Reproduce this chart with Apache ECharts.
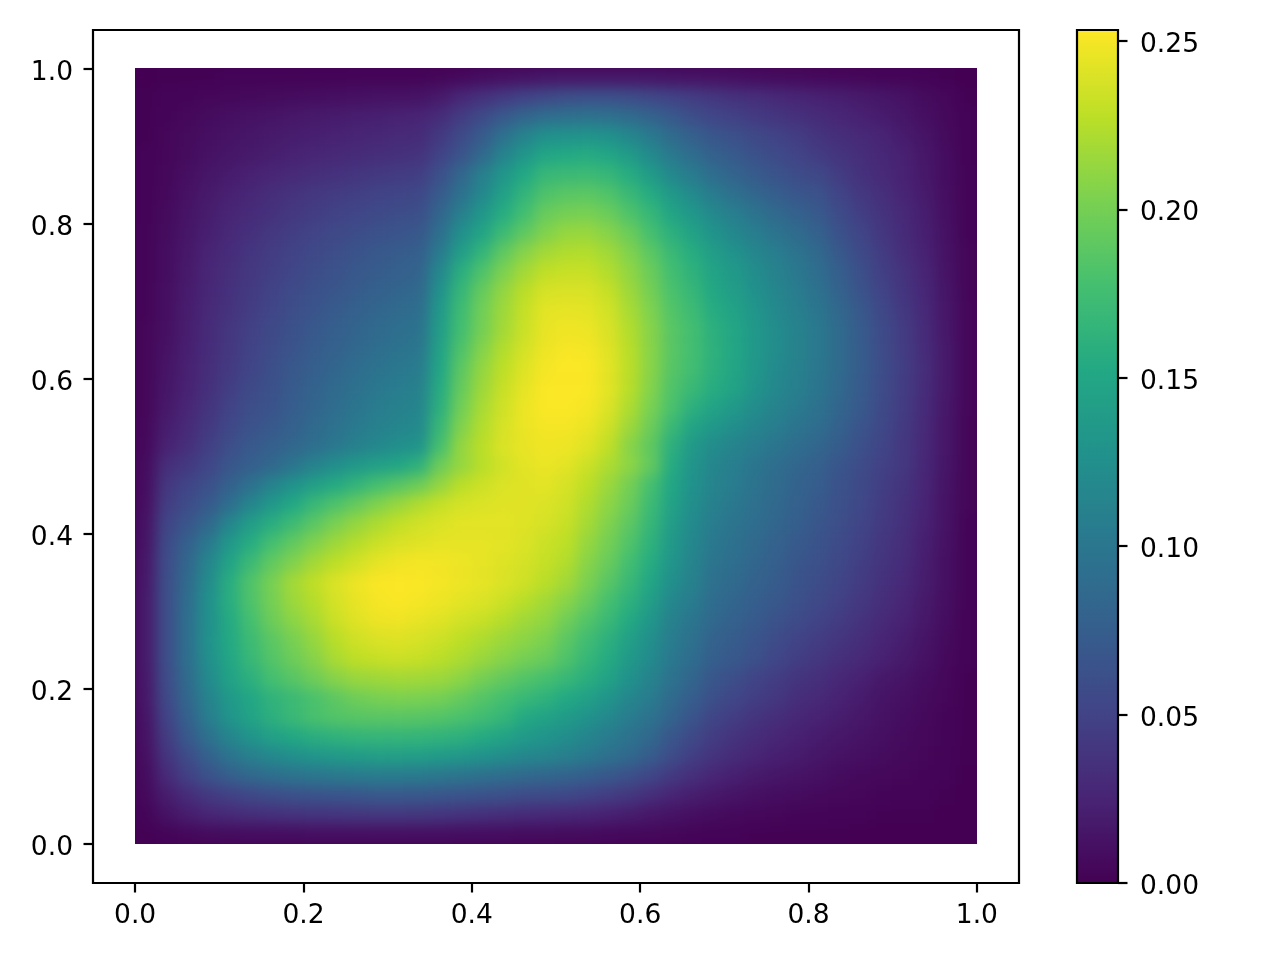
<!DOCTYPE html>
<html><head><meta charset="utf-8">
<style>html,body{margin:0;padding:0;background:#fff}#c{width:1280px;height:960px}</style>
<script src="https://cdn.jsdelivr.net/npm/echarts@6/dist/echarts.min.js"></script>
</head><body><div id="c"></div>
<script>
// Cell values in thousandths. Rows run from y = 0.9875 (top) down to y = 0.0125.
var cellRows = [
[0,1,1,1,2,2,2,2,2,2,3,3,3,3,4,6,9,11,13,15,16,16,16,16,15,14,13,12,11,9,8,7,6,5,4,3,3,2,1,0],
[1,2,3,4,5,6,7,8,9,10,11,12,12,13,18,28,36,43,50,55,60,62,62,59,54,50,45,40,36,33,29,26,23,21,18,15,12,8,5,1],
[1,3,5,8,10,12,14,16,18,19,21,22,24,25,32,44,56,70,82,90,93,95,93,88,80,70,60,53,48,43,39,35,31,27,23,19,15,10,6,2],
[1,4,7,10,13,15,18,20,22,24,26,28,30,31,42,56,72,94,112,126,128,130,127,117,103,88,77,68,62,55,50,45,38,33,29,25,19,14,7,2],
[2,4,8,12,15,18,21,24,27,29,31,33,35,37,50,66,86,112,132,150,153,155,150,138,120,102,90,78,71,63,57,51,44,38,33,28,23,16,9,2],
[2,5,10,15,19,23,27,30,33,36,39,42,44,46,62,84,108,132,152,168,171,172,167,156,138,118,104,90,81,72,65,58,54,44,36,30,24,17,9,3],
[2,6,12,18,23,28,33,37,41,44,47,50,52,54,72,94,118,143,165,182,187,188,183,170,155,135,120,104,93,83,75,68,64,51,41,34,26,19,10,3],
[2,7,14,20,26,31,36,41,45,49,53,56,59,61,82,108,132,156,176,194,200,201,195,182,167,148,133,118,107,96,86,78,70,57,46,37,29,21,11,3],
[3,8,15,22,29,35,41,46,51,55,59,63,66,69,92,125,148,172,190,205,213,214,207,195,178,160,145,129,117,106,96,88,78,63,52,40,31,22,12,3],
[3,9,17,25,32,39,45,50,55,60,65,69,73,76,104,140,165,190,207,218,223,224,217,205,188,170,156,140,128,116,106,96,85,69,56,44,33,24,13,4],
[3,9,18,27,34,41,47,53,59,64,69,73,77,81,118,158,182,203,218,229,232,232,224,211,195,176,162,146,135,123,111,101,90,75,61,47,37,26,14,4],
[3,10,19,28,36,43,50,57,63,68,73,78,82,86,128,167,193,212,227,238,239,239,231,216,200,180,167,151,140,127,115,105,94,79,65,51,39,28,15,4],
[3,10,20,29,37,45,53,60,66,72,78,83,87,91,136,173,198,216,231,243,244,243,236,220,204,184,172,155,145,131,119,108,98,84,69,54,42,29,16,5],
[4,11,21,31,40,48,56,63,70,76,82,87,92,96,140,176,200,218,233,245,248,247,239,224,207,187,176,160,150,134,122,112,101,87,72,57,44,31,17,5],
[4,12,22,32,41,50,58,66,73,79,85,91,96,100,145,182,206,224,237,247,251,250,242,226,208,187,176,161,150,134,122,111,101,87,73,58,45,32,18,5],
[4,14,23,33,43,52,61,69,76,83,90,96,101,105,150,188,212,228,241,250,253,252,243,227,208,186,175,160,149,133,120,110,100,87,73,59,46,33,18,5],
[4,15,24,35,46,56,63,72,80,87,94,101,106,110,155,193,216,232,244,252,253,252,243,226,206,183,170,156,146,130,118,108,98,85,72,58,45,32,18,5],
[4,17,27,38,50,60,65,74,82,90,98,105,110,114,160,198,220,235,246,252,252,250,240,222,202,180,160,146,135,122,112,103,94,82,70,56,44,31,17,5],
[5,20,30,42,54,64,70,78,87,95,103,110,116,120,168,205,224,238,246,250,250,246,235,216,196,170,148,134,124,114,106,97,90,78,66,54,43,30,16,4],
[6,24,34,47,60,70,77,84,92,101,110,118,125,130,178,212,227,240,245,248,247,242,229,208,190,160,135,122,113,105,98,90,83,73,62,52,41,29,16,4],
[8,33,42,53,68,76,85,98,112,125,135,143,150,162,196,213,226,236,243,246,243,234,222,210,192,155,130,116,107,98,90,83,77,67,58,48,41,28,15,4],
[9,40,52,62,78,94,112,128,142,154,165,177,186,196,212,227,234,240,242,243,238,228,215,200,178,150,128,113,105,96,88,80,74,64,56,46,38,27,14,4],
[10,45,58,71,91,114,134,152,169,182,193,205,214,223,231,237,240,242,242,240,235,223,210,195,172,145,124,109,101,93,85,78,70,62,54,44,36,25,13,4],
[12,52,68,85,116,140,158,173,188,202,213,222,230,236,240,243,243,243,241,238,232,219,205,189,167,140,120,105,97,90,83,75,68,60,52,43,35,24,13,3],
[14,56,78,102,134,156,177,191,205,216,225,233,239,242,244,244,244,243,240,233,228,213,200,183,162,136,117,101,94,86,79,71,65,57,49,40,33,22,12,3],
[16,58,84,116,147,171,191,205,218,228,236,244,248,250,249,247,244,241,237,231,224,208,194,176,156,131,113,97,91,83,76,68,62,54,46,38,32,21,11,3],
[17,60,88,122,157,183,201,218,229,240,247,252,254,252,250,247,244,240,235,227,218,203,187,170,150,125,110,93,87,79,73,65,59,52,44,36,29,20,11,3],
[18,60,90,126,157,182,200,215,225,237,245,250,252,250,247,243,240,234,226,218,208,194,178,161,141,117,104,89,82,75,69,62,55,48,41,33,27,18,10,3],
[18,60,92,126,154,177,196,209,220,233,242,247,248,245,242,236,232,225,217,211,198,184,170,153,132,110,98,85,78,71,64,57,50,44,37,30,24,17,9,2],
[18,60,92,128,153,172,188,201,213,226,235,239,241,238,234,228,222,215,209,203,188,174,160,142,125,105,93,79,73,66,58,50,45,39,33,26,21,14,7,2],
[18,60,92,125,150,168,184,196,207,220,228,231,233,231,227,221,214,207,200,194,182,167,154,136,120,101,89,75,69,62,53,46,40,34,29,23,18,12,6,2],
[17,58,88,120,145,160,177,186,197,207,214,216,218,217,215,209,200,192,184,178,168,158,145,127,112,95,82,68,60,51,45,38,34,28,23,17,14,9,5,1],
[16,55,84,112,136,150,163,171,180,189,197,201,203,202,200,193,185,177,168,162,152,143,130,116,104,87,74,61,53,46,40,33,29,24,19,14,11,7,4,1],
[14,50,78,106,130,146,160,170,179,184,186,187,187,186,184,180,174,166,153,145,138,128,118,105,95,80,66,52,45,38,33,28,24,20,16,12,9,6,3,1],
[12,44,70,94,114,130,143,151,158,162,165,166,166,165,163,160,154,147,137,130,123,114,104,95,85,68,55,44,37,32,27,23,19,16,13,10,7,5,3,1],
[10,38,58,78,96,108,118,125,131,135,138,141,141,140,137,133,128,123,117,113,108,101,93,85,73,58,46,37,31,26,22,19,15,12,10,8,6,4,2,1],
[8,30,48,64,76,85,91,96,99,102,104,105,104,103,100,97,93,90,86,83,80,75,69,62,53,42,34,27,22,18,15,13,11,8,6,5,4,3,2,0],
[6,20,32,42,48,54,59,63,65,67,68,70,70,69,68,66,64,62,58,56,54,50,45,40,33,26,21,17,14,11,9,8,6,5,4,3,2,2,1,0],
[3,12,20,26,30,33,35,37,38,39,40,41,41,40,39,37,35,33,31,29,28,26,23,20,16,13,10,8,6,5,4,3,3,2,2,1,1,1,0,0],
[1,3,5,7,8,9,9,9,10,10,10,10,10,10,10,9,9,9,8,8,7,7,6,5,5,4,3,2,2,1,1,1,1,1,0,0,0,0,0,0]
];
var xTicks = [0, 0.2, 0.4, 0.6, 0.8, 1.0];
var yTicks = [0, 0.2, 0.4, 0.6, 0.8, 1.0];
var colorbarTicks = [0, 0.05, 0.10, 0.15, 0.20, 0.25];
var colorMax = 0.2533;
var viridis = ['#440154','#482475','#414487','#355f8d','#2a788e','#21918c','#22a884','#44bf70','#7ad151','#bddf26','#fde725'];

cellRows.forEach(function(r, i){ if (r.length !== 40) throw new Error('bad row ' + i + ' ' + r.length); });
if (cellRows.length !== 40) throw new Error('bad rows');

var cats = cellRows[0].map(function(_, i){ return String(i); });
var heat = [];
cellRows.forEach(function(row, r){
  row.forEach(function(v, c){ heat.push([c, 39 - r, v / 1000]); });
});

var font = 'DejaVu Sans', fs = 26.5, lw = 2.2;
function tickAxis(extra, values, digits, margin, shift){
  var label = {show:true, color:'#000', fontFamily:font, fontSize:fs, margin:margin, customValues:values,
    formatter:function(v){
      var s = Number(v).toFixed(digits);
      return shift ? '{a|' + s + '}' : s;
    }};
  if (shift) label.rich = {a:{color:'#000', fontFamily:font, fontSize:fs, lineHeight:35, verticalAlign:'bottom'}};
  var base = {
    type:'value', zlevel:1, z:5, splitLine:{show:false},
    axisLine:{show:false, onZero:false},
    axisTick:{show:true, length:9.5, lineStyle:{color:'#000', width:lw}, customValues:values},
    axisLabel:label
  };
  return Object.assign(base, extra);
}
var chart = echarts.init(document.getElementById('c'), null, {renderer:'canvas', width:1280, height:960});
chart.setOption({
  animation:false, backgroundColor:'transparent',
  grid:[
    {left:93, top:30, width:926, height:853, show:true, borderColor:'#000', borderWidth:lw, backgroundColor:'transparent', zlevel:1, z:5},
    {left:135, top:68, width:842, height:776, show:false},
    {left:1077, top:30, width:41, height:853, show:true, borderColor:'#000', borderWidth:lw, backgroundColor:'transparent', zlevel:1, z:5}
  ],
  xAxis:[
    tickAxis({gridIndex:0, min:-0.05, max:1.05, position:'bottom'}, xTicks, 1, 20, false),
    {type:'category', gridIndex:1, data:cats, show:false},
    {type:'value', gridIndex:2, min:0, max:1, show:false}
  ],
  yAxis:[
    tickAxis({gridIndex:0, min:-0.05, max:1.05, position:'left'}, yTicks, 1, 20, true),
    {type:'category', gridIndex:1, data:cats, show:false},
    tickAxis({gridIndex:2, min:0, max:colorMax, position:'right'}, colorbarTicks, 2, 22, true)
  ],
  visualMap:{
    type:'continuous', min:0, max:colorMax, seriesIndex:0, calculable:false, realtime:false,
    left:1077, top:30, itemWidth:41, itemHeight:853, text:null, showLabel:false, zlevel:1, z:1,
    inRange:{color:viridis}, hoverLink:false, textStyle:{fontSize:0}, padding:0
  },
  series:[{
    type:'heatmap', xAxisIndex:1, yAxisIndex:1, data:heat, progressive:0, zlevel:0,
    itemStyle:{borderWidth:0}, emphasis:{disabled:true}
  }]
});
// Soften the cell edges of the heatmap's own canvas layer, and keep it inside the plotted square.
var layer = document.querySelector('#c canvas[data-zr-dom-id="zr_0"]');
if (layer) {
  layer.style.background = '#440154';
  layer.style.filter = 'blur(7px)';
  layer.style.clipPath = 'inset(68px 303px 116px 135px)';
}
</script></body></html>
